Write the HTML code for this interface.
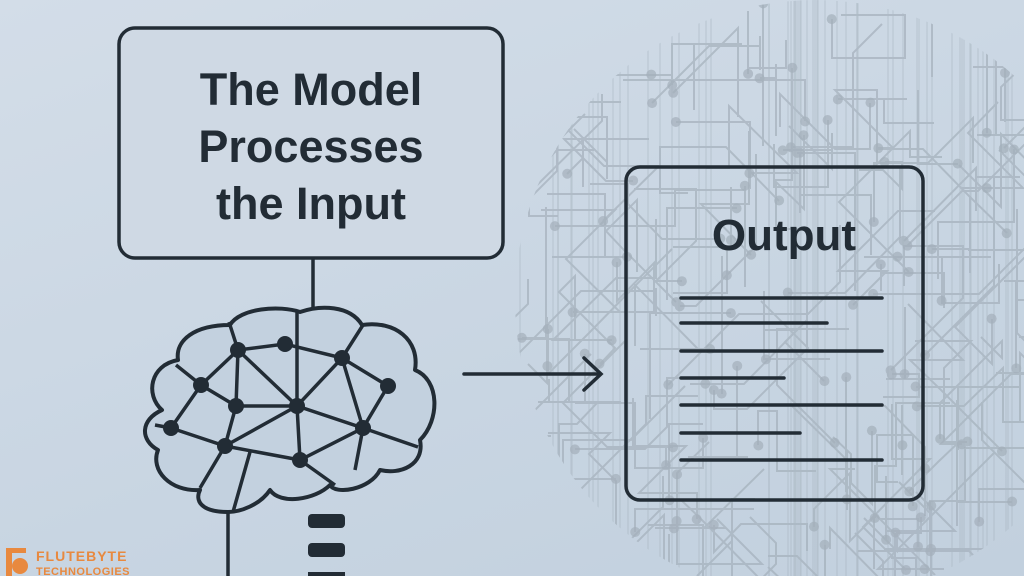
<!DOCTYPE html>
<html><head><meta charset="utf-8"><style>
html,body{margin:0;padding:0;overflow:hidden}
body{width:1024px;height:576px;overflow:hidden;background:linear-gradient(160deg,#d3dde8 0%,#c8d5e2 60%,#c2d0de 100%);font-family:"Liberation Sans","DejaVu Sans",sans-serif;position:relative}
svg{position:absolute;left:0;top:0;display:block}
</style></head><body>
<svg width="1024" height="576" viewBox="0 0 1024 576">
<defs><clipPath id="g"><circle cx="815" cy="300" r="300"/></clipPath></defs>
<g id="circ" clip-path="url(#g)" stroke="#a4b0bb" stroke-width="2" fill="none" opacity="0.7"></g>
<g id="dots" clip-path="url(#g)" fill="#a4b0bb" opacity="0.7"></g>
<rect x="119" y="28" width="384" height="230" rx="16" fill="#cfd9e4" stroke="#222c35" stroke-width="3.5"/>
<text x="311" y="105" text-anchor="middle" font-size="45" font-weight="bold" fill="#222c35" font-family="Liberation Sans, sans-serif">The Model</text>
<text x="311" y="162" text-anchor="middle" font-size="45" font-weight="bold" fill="#222c35" font-family="Liberation Sans, sans-serif">Processes</text>
<text x="311" y="219" text-anchor="middle" font-size="45" font-weight="bold" fill="#222c35" font-family="Liberation Sans, sans-serif">the Input</text>
<line x1="313" y1="258" x2="313" y2="312" stroke="#222c35" stroke-width="3.5"/>
<path d="M228,512 C200,512 195,500 200,490 C170,492 150,470 158,450 C140,440 140,420 162,410 C145,395 150,365 178,360 C175,340 195,325 230,325 C240,308 280,305 300,312 C320,305 350,305 362,325 C395,320 420,340 415,370 C440,380 440,420 420,440 C425,465 400,475 380,470 C370,490 335,495 330,485 C315,500 280,505 270,490 C260,505 240,512 228,512 Z" fill="#c3d1df" stroke="#222c35" stroke-width="4" stroke-linejoin="round"/>
<g stroke="#222c35" stroke-width="3.5" fill="none">
<path d="M228,512 L228,576"/>
<path d="M297,312 L297,406 L300,460"/>
<path d="M229,322 L238,350 L285,344 L342,358 L363,325"/>
<path d="M238,350 L201,385 L236,406 L297,406 L363,428 L342,358 L297,406 L225,446"/>
<path d="M238,350 L297,406"/>
<path d="M201,385 L171,428 L225,446 L236,406 L238,350"/>
<path d="M201,385 L176,365 M171,428 L155,425"/>
<path d="M225,446 L300,460 L363,428 L388,386 L342,358"/>
<path d="M363,428 L418,447 M363,428 L355,470 M300,460 L335,485 M250,452 L233,512 M225,446 L200,488"/>
</g>
<g fill="#222c35">
<circle cx="238" cy="350" r="8"/><circle cx="285" cy="344" r="8"/><circle cx="342" cy="358" r="8"/><circle cx="388" cy="386" r="8"/><circle cx="201" cy="385" r="8"/><circle cx="236" cy="406" r="8"/><circle cx="297" cy="406" r="8"/><circle cx="363" cy="428" r="8"/><circle cx="171" cy="428" r="8"/><circle cx="225" cy="446" r="8"/><circle cx="300" cy="460" r="8"/>
<rect x="308" y="514" width="37" height="14" rx="4"/><rect x="308" y="543" width="37" height="14" rx="4"/><rect x="308" y="572" width="37" height="4"/>
</g>
<g stroke="#222c35" stroke-width="3.5" fill="none" stroke-linecap="round">
<line x1="464" y1="374" x2="600" y2="374"/><path d="M584,358 L601,374 L584,390"/>
</g>
<rect x="626" y="167" width="297" height="333" rx="14" fill="none" stroke="#222c35" stroke-width="3.5"/>
<text x="784" y="250" text-anchor="middle" font-size="44" font-weight="bold" fill="#222c35" font-family="Liberation Sans, sans-serif">Output</text>
<g stroke="#222c35" stroke-width="3.5" stroke-linecap="round">
<line x1="681" y1="298" x2="882" y2="298"/><line x1="681" y1="323" x2="827" y2="323"/><line x1="681" y1="351" x2="882" y2="351"/><line x1="681" y1="378" x2="784" y2="378"/><line x1="681" y1="405" x2="882" y2="405"/><line x1="681" y1="433" x2="800" y2="433"/><line x1="681" y1="460" x2="882" y2="460"/>
</g>
<g fill="#e8893f">
<rect x="6" y="548" width="6" height="28"/><rect x="6" y="548" width="20" height="5"/><circle cx="20" cy="566" r="8"/>
</g>
<text x="36" y="561" font-size="14" font-weight="bold" fill="#e8893f" font-family="Liberation Sans, sans-serif" letter-spacing="1">FLUTEBYTE</text>
<text x="36" y="575" font-size="11" font-weight="bold" fill="#e8893f" font-family="Liberation Sans, sans-serif" letter-spacing="0.5">TECHNOLOGIES</text>
</svg>
<script>
(function(){
var s=11;function r(){s=(s*16807)%2147483647;return s/2147483647;}
var g=document.getElementById('circ'),d=document.getElementById('dots'),ns='http://www.w3.org/2000/svg';
for(var i=0;i<160;i++){
 var a=r()*6.283,rr=Math.sqrt(r())*300;
 var x=815+rr*Math.cos(a),y=300+rr*Math.sin(a),p='M'+x.toFixed(0)+','+y.toFixed(0);
 for(var k=0;k<4;k++){var t=r();var L=15+r()*60;
  if(t<0.35){x+=L*(r()<0.5?-1:1);} else if(t<0.75){y+=L*(r()<0.5?-1:1);} else {var dd=L*(r()<0.5?-1:1);x+=dd;y+=Math.abs(dd);}
  p+=' L'+x.toFixed(0)+','+y.toFixed(0);}
 var e=document.createElementNS(ns,'path');e.setAttribute('d',p);g.appendChild(e);
 var c=document.createElementNS(ns,'circle');c.setAttribute('cx',x);c.setAttribute('cy',y);c.setAttribute('r',5);d.appendChild(c);
}
for(var i=0;i<60;i++){var x=520+r()*500;
 var e=document.createElementNS(ns,'path');e.setAttribute('d','M'+x.toFixed(0)+',0 L'+x.toFixed(0)+',576');e.setAttribute('stroke-width','1.2');e.setAttribute('opacity','0.6');g.appendChild(e);}
})();
</script>
</body></html>
